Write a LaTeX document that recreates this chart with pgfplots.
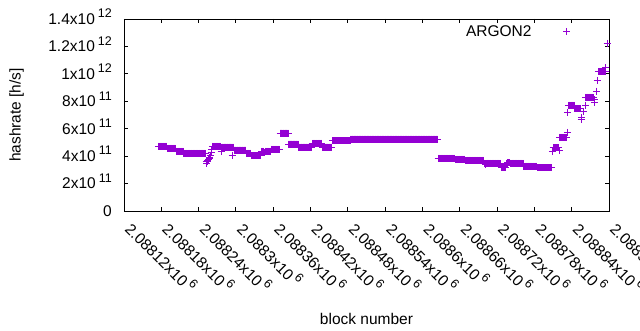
\documentclass[border=0pt]{standalone}
\usepackage{fontspec}
\setmainfont{Liberation Sans}
\usepackage{pgfplots}
\pgfplotsset{compat=1.18}
\definecolor{gpviolet}{RGB}{148,0,211}
\newcommand{\sci}[2]{#1x10\hspace{3bp}\smash{\raisebox{0.42em}{\fontsize{12.5bp}{13bp}\selectfont #2}}}
% block numbers are all 2088xxx: drop the common leading digits to keep full precision
\def\blockoffi#1#2#3#4#5\relax{\def\pgfmathresult{#5}}
\begin{document}
\begin{tikzpicture}
\begin{axis}[
  name=ax,
  scale only axis,
  width=485bp, height=192bp,
  x coord trafo/.code={\blockoffi#1\relax},
  xmin=2088120, xmax=2088900,
  ymin=0, ymax=1.4e12,
  scaled ticks=false,
  clip=false,
  axis line style={line width=0.9bp, black},
  every tick/.style={line width=0.9bp, black},
  tick align=inside,
  major tick length=4bp,
  xtick pos=both, ytick pos=both,
  font=\fontsize{15.5bp}{18bp}\selectfont,
  xtick={2088120,2088180,2088240,2088300,2088360,2088420,2088480,2088540,2088600,2088660,2088720,2088780,2088840,2088900},
  xticklabels={\sci{2.08812}{6},\sci{2.08818}{6},\sci{2.08824}{6},\sci{2.0883}{6},\sci{2.08836}{6},\sci{2.08842}{6},\sci{2.08848}{6},\sci{2.08854}{6},\sci{2.0886}{6},\sci{2.08866}{6},\sci{2.08872}{6},\sci{2.08878}{6},\sci{2.08884}{6},\sci{2.0889}{6}},
  xticklabel style={inner sep=0pt, yshift=-19bp, rotate=-45, anchor=base west},
  ytick={0,2e11,4e11,6e11,8e11,1e12,1.2e12,1.4e12},
  yticklabels={0,\sci{2}{11},\sci{4}{11},\sci{6}{11},\sci{8}{11},\sci{1}{12},\sci{1.2}{12},\sci{1.4}{12}},
  yticklabel style={inner sep=0pt, anchor=east, xshift=-12bp},
  ylabel={hashrate [h/s]},
  ylabel style={at={(axis description cs:-0.2216,0.5)}, anchor=center},
  xlabel={block number},
  xlabel style={at={(axis description cs:0.5,-0.5625)}, anchor=center},
  legend style={draw=none, fill=none, inner sep=0pt, outer sep=0pt,
    at={(axis description cs:0.9206,0.9323)}, anchor=east,
    nodes={inner sep=0pt},
    /tikz/every odd column/.append style={column sep=32bp}},
  legend plot pos=right,
  legend image code/.code={\draw[#1] plot coordinates {(0bp,0bp)};},
]
\addplot[only marks, mark=+, mark size=3.5bp, color=gpviolet, mark options={line width=1bp}] table {
x y
2088176 4.72e11
2088177 4.72e11
2088178 4.72e11
2088179 4.72e11
2088180 4.72e11
2088181 4.72e11
2088182 4.72e11
2088183 4.72e11
2088184 4.72e11
2088185 4.72e11
2088186 4.72e11
2088187 4.72e11
2088188 4.72e11
2088189 4.72e11
2088190 4.57e11
2088191 4.57e11
2088192 4.57e11
2088193 4.57e11
2088194 4.57e11
2088195 4.57e11
2088196 4.57e11
2088197 4.57e11
2088198 4.57e11
2088199 4.57e11
2088200 4.57e11
2088201 4.57e11
2088202 4.57e11
2088203 4.57e11
2088204 4.35e11
2088205 4.35e11
2088206 4.35e11
2088207 4.35e11
2088208 4.35e11
2088209 4.35e11
2088210 4.35e11
2088211 4.35e11
2088212 4.35e11
2088213 4.35e11
2088214 4.35e11
2088215 4.35e11
2088216 4.21e11
2088217 4.21e11
2088218 4.21e11
2088219 4.21e11
2088220 4.21e11
2088221 4.21e11
2088222 4.21e11
2088223 4.21e11
2088224 4.21e11
2088225 4.21e11
2088226 4.21e11
2088227 4.21e11
2088228 4.21e11
2088229 4.21e11
2088230 4.21e11
2088231 4.21e11
2088232 4.21e11
2088233 4.21e11
2088234 4.21e11
2088235 4.21e11
2088236 4.21e11
2088237 4.21e11
2088238 4.21e11
2088239 4.21e11
2088240 4.21e11
2088241 4.21e11
2088242 4.21e11
2088243 4.21e11
2088244 4.21e11
2088245 4.21e11
2088246 4.21e11
2088247 4.21e11
2088248 4.21e11
2088249 4.21e11
2088250 4.21e11
2088251 4.21e11
2088252 3.60e11
2088253 3.48e11
2088254 3.58e11
2088255 3.70e11
2088256 3.77e11
2088257 3.85e11
2088258 3.92e11
2088259 4.08e11
2088260 4.28e11
2088261 4.50e11
2088262 4.72e11
2088263 4.72e11
2088264 4.72e11
2088265 4.72e11
2088266 4.72e11
2088267 4.72e11
2088268 4.72e11
2088269 4.72e11
2088270 4.72e11
2088271 4.72e11
2088272 4.72e11
2088273 4.72e11
2088274 4.72e11
2088275 4.72e11
2088276 4.33e11
2088277 4.65e11
2088278 4.65e11
2088279 4.65e11
2088280 4.65e11
2088281 4.65e11
2088282 4.65e11
2088283 4.65e11
2088284 4.65e11
2088285 4.65e11
2088286 4.65e11
2088287 4.65e11
2088288 4.65e11
2088289 4.65e11
2088290 4.65e11
2088291 4.65e11
2088292 4.65e11
2088293 4.65e11
2088294 4.05e11
2088295 4.65e11
2088296 4.65e11
2088297 4.43e11
2088298 4.43e11
2088299 4.43e11
2088300 4.43e11
2088301 4.43e11
2088302 4.43e11
2088303 4.43e11
2088304 4.43e11
2088305 4.43e11
2088306 4.43e11
2088307 4.43e11
2088308 4.43e11
2088309 4.43e11
2088310 4.43e11
2088311 4.43e11
2088312 4.43e11
2088313 4.43e11
2088314 4.43e11
2088315 4.43e11
2088316 4.43e11
2088317 4.20e11
2088318 4.20e11
2088319 4.20e11
2088320 4.20e11
2088321 4.20e11
2088322 4.20e11
2088323 4.20e11
2088324 4.20e11
2088325 4.04e11
2088326 4.04e11
2088327 4.04e11
2088328 4.04e11
2088329 4.04e11
2088330 4.04e11
2088331 4.04e11
2088332 4.04e11
2088333 4.04e11
2088334 4.04e11
2088335 4.04e11
2088336 4.04e11
2088337 4.04e11
2088338 4.04e11
2088339 4.04e11
2088340 4.04e11
2088341 4.35e11
2088342 4.35e11
2088343 4.35e11
2088344 4.35e11
2088345 4.30e11
2088346 4.30e11
2088347 4.35e11
2088348 4.35e11
2088349 4.35e11
2088350 4.35e11
2088351 4.35e11
2088352 4.35e11
2088353 4.35e11
2088354 4.35e11
2088355 4.35e11
2088356 4.35e11
2088357 4.50e11
2088358 4.50e11
2088359 4.50e11
2088360 4.50e11
2088361 4.50e11
2088362 4.50e11
2088363 4.50e11
2088364 4.50e11
2088365 4.50e11
2088366 4.50e11
2088367 4.50e11
2088368 4.50e11
2088369 4.50e11
2088370 4.50e11
2088371 5.67e11
2088372 5.67e11
2088373 5.67e11
2088374 5.67e11
2088375 5.67e11
2088376 5.67e11
2088377 5.67e11
2088378 5.67e11
2088379 5.67e11
2088380 5.67e11
2088381 5.67e11
2088382 5.67e11
2088383 5.67e11
2088384 5.67e11
2088385 4.87e11
2088386 4.87e11
2088387 4.87e11
2088388 4.87e11
2088389 4.87e11
2088390 4.87e11
2088391 4.87e11
2088392 4.87e11
2088393 4.87e11
2088394 4.87e11
2088395 4.87e11
2088396 4.87e11
2088397 4.87e11
2088398 4.87e11
2088399 4.87e11
2088400 4.87e11
2088401 4.65e11
2088402 4.65e11
2088403 4.65e11
2088404 4.65e11
2088405 4.65e11
2088406 4.65e11
2088407 4.65e11
2088408 4.65e11
2088409 4.65e11
2088410 4.65e11
2088411 4.65e11
2088412 4.65e11
2088413 4.65e11
2088414 4.65e11
2088415 4.65e11
2088416 4.65e11
2088417 4.65e11
2088418 4.65e11
2088419 4.65e11
2088420 4.65e11
2088421 4.65e11
2088422 4.65e11
2088423 4.94e11
2088424 4.94e11
2088425 4.94e11
2088426 4.94e11
2088427 4.94e11
2088428 4.94e11
2088429 4.94e11
2088430 4.94e11
2088431 4.94e11
2088432 4.94e11
2088433 4.94e11
2088434 4.94e11
2088435 4.94e11
2088436 4.94e11
2088437 4.94e11
2088438 4.94e11
2088439 4.65e11
2088440 4.65e11
2088441 4.65e11
2088442 4.65e11
2088443 4.65e11
2088444 4.65e11
2088445 4.65e11
2088446 4.65e11
2088447 4.65e11
2088448 4.65e11
2088449 4.65e11
2088450 4.65e11
2088451 4.65e11
2088452 4.65e11
2088453 4.65e11
2088454 4.65e11
2088455 5.14e11
2088456 5.14e11
2088457 5.14e11
2088458 5.14e11
2088459 5.14e11
2088460 5.14e11
2088461 5.14e11
2088462 5.14e11
2088463 5.14e11
2088464 5.14e11
2088465 5.14e11
2088466 5.14e11
2088467 5.14e11
2088468 5.14e11
2088469 5.14e11
2088470 5.14e11
2088471 5.14e11
2088472 5.14e11
2088473 5.14e11
2088474 5.14e11
2088475 5.14e11
2088476 5.14e11
2088477 5.14e11
2088478 5.14e11
2088479 5.14e11
2088480 5.14e11
2088481 5.14e11
2088482 5.14e11
2088483 5.14e11
2088484 5.14e11
2088485 5.25e11
2088486 5.25e11
2088487 5.25e11
2088488 5.25e11
2088489 5.25e11
2088490 5.25e11
2088491 5.25e11
2088492 5.25e11
2088493 5.25e11
2088494 5.25e11
2088495 5.25e11
2088496 5.25e11
2088497 5.25e11
2088498 5.25e11
2088499 5.25e11
2088500 5.25e11
2088501 5.25e11
2088502 5.25e11
2088503 5.25e11
2088504 5.25e11
2088505 5.25e11
2088506 5.25e11
2088507 5.25e11
2088508 5.25e11
2088509 5.25e11
2088510 5.25e11
2088511 5.25e11
2088512 5.25e11
2088513 5.25e11
2088514 5.25e11
2088515 5.25e11
2088516 5.25e11
2088517 5.25e11
2088518 5.25e11
2088519 5.25e11
2088520 5.25e11
2088521 5.25e11
2088522 5.25e11
2088523 5.25e11
2088524 5.25e11
2088525 5.25e11
2088526 5.25e11
2088527 5.25e11
2088528 5.25e11
2088529 5.25e11
2088530 5.25e11
2088531 5.25e11
2088532 5.25e11
2088533 5.25e11
2088534 5.25e11
2088535 5.25e11
2088536 5.25e11
2088537 5.25e11
2088538 5.25e11
2088539 5.25e11
2088540 5.25e11
2088541 5.25e11
2088542 5.25e11
2088543 5.25e11
2088544 5.25e11
2088545 5.25e11
2088546 5.25e11
2088547 5.25e11
2088548 5.25e11
2088549 5.25e11
2088550 5.25e11
2088551 5.25e11
2088552 5.25e11
2088553 5.25e11
2088554 5.25e11
2088555 5.25e11
2088556 5.25e11
2088557 5.25e11
2088558 5.25e11
2088559 5.25e11
2088560 5.25e11
2088561 5.25e11
2088562 5.25e11
2088563 5.25e11
2088564 5.25e11
2088565 5.25e11
2088566 5.25e11
2088567 5.25e11
2088568 5.25e11
2088569 5.25e11
2088570 5.25e11
2088571 5.25e11
2088572 5.25e11
2088573 5.25e11
2088574 5.25e11
2088575 5.25e11
2088576 5.25e11
2088577 5.25e11
2088578 5.25e11
2088579 5.25e11
2088580 5.25e11
2088581 5.25e11
2088582 5.25e11
2088583 5.25e11
2088584 5.25e11
2088585 5.25e11
2088586 5.25e11
2088587 5.25e11
2088588 5.25e11
2088589 5.25e11
2088590 5.25e11
2088591 5.25e11
2088592 5.25e11
2088593 5.25e11
2088594 5.25e11
2088595 5.25e11
2088596 5.25e11
2088597 5.25e11
2088598 5.25e11
2088599 5.25e11
2088600 5.25e11
2088601 5.25e11
2088602 5.25e11
2088603 5.25e11
2088604 5.25e11
2088605 5.25e11
2088606 5.25e11
2088607 5.25e11
2088608 5.25e11
2088609 5.25e11
2088610 5.25e11
2088611 5.25e11
2088612 5.25e11
2088613 5.25e11
2088614 5.25e11
2088615 5.25e11
2088616 5.25e11
2088617 5.25e11
2088618 5.25e11
2088619 5.25e11
2088620 5.25e11
2088621 5.25e11
2088622 5.25e11
2088623 5.25e11
2088624 5.25e11
2088625 3.84e11
2088626 3.84e11
2088627 3.84e11
2088628 3.84e11
2088629 3.84e11
2088630 3.84e11
2088631 3.84e11
2088632 3.84e11
2088633 3.84e11
2088634 3.84e11
2088635 3.84e11
2088636 3.84e11
2088637 3.84e11
2088638 3.84e11
2088639 3.84e11
2088640 3.84e11
2088641 3.84e11
2088642 3.84e11
2088643 3.84e11
2088644 3.84e11
2088645 3.84e11
2088646 3.84e11
2088647 3.84e11
2088648 3.84e11
2088649 3.84e11
2088650 3.84e11
2088651 3.84e11
2088652 3.84e11
2088653 3.77e11
2088654 3.77e11
2088655 3.77e11
2088656 3.77e11
2088657 3.77e11
2088658 3.77e11
2088659 3.77e11
2088660 3.77e11
2088661 3.77e11
2088662 3.77e11
2088663 3.77e11
2088664 3.77e11
2088665 3.77e11
2088666 3.77e11
2088667 3.77e11
2088668 3.77e11
2088669 3.70e11
2088670 3.70e11
2088671 3.70e11
2088672 3.70e11
2088673 3.70e11
2088674 3.70e11
2088675 3.70e11
2088676 3.70e11
2088677 3.70e11
2088678 3.70e11
2088679 3.70e11
2088680 3.70e11
2088681 3.70e11
2088682 3.70e11
2088683 3.70e11
2088684 3.70e11
2088685 3.70e11
2088686 3.70e11
2088687 3.70e11
2088688 3.70e11
2088689 3.70e11
2088690 3.70e11
2088691 3.70e11
2088692 3.70e11
2088693 3.70e11
2088694 3.70e11
2088695 3.70e11
2088696 3.70e11
2088697 3.70e11
2088698 3.70e11
2088699 3.48e11
2088700 3.48e11
2088701 3.40e11
2088702 3.40e11
2088703 3.48e11
2088704 3.48e11
2088705 3.48e11
2088706 3.48e11
2088707 3.48e11
2088708 3.48e11
2088709 3.48e11
2088710 3.48e11
2088711 3.48e11
2088712 3.48e11
2088713 3.48e11
2088714 3.48e11
2088715 3.48e11
2088716 3.48e11
2088717 3.48e11
2088718 3.48e11
2088719 3.48e11
2088720 3.48e11
2088721 3.48e11
2088722 3.48e11
2088723 3.48e11
2088724 3.48e11
2088725 3.48e11
2088726 3.48e11
2088727 3.19e11
2088728 3.19e11
2088729 3.19e11
2088730 3.19e11
2088731 3.19e11
2088732 3.19e11
2088733 3.19e11
2088734 3.19e11
2088735 3.47e11
2088736 3.47e11
2088737 3.52e11
2088738 3.52e11
2088739 3.52e11
2088740 3.52e11
2088741 3.47e11
2088742 3.47e11
2088743 3.47e11
2088744 3.47e11
2088745 3.47e11
2088746 3.47e11
2088747 3.47e11
2088748 3.47e11
2088749 3.47e11
2088750 3.47e11
2088751 3.47e11
2088752 3.47e11
2088753 3.47e11
2088754 3.47e11
2088755 3.47e11
2088756 3.47e11
2088757 3.47e11
2088758 3.47e11
2088759 3.47e11
2088760 3.47e11
2088761 3.47e11
2088762 3.47e11
2088763 3.26e11
2088764 3.26e11
2088765 3.26e11
2088766 3.26e11
2088767 3.26e11
2088768 3.26e11
2088769 3.26e11
2088770 3.26e11
2088771 3.26e11
2088772 3.26e11
2088773 3.26e11
2088774 3.26e11
2088775 3.26e11
2088776 3.26e11
2088777 3.26e11
2088778 3.26e11
2088779 3.26e11
2088780 3.26e11
2088781 3.26e11
2088782 3.26e11
2088783 3.26e11
2088784 3.26e11
2088785 3.16e11
2088786 3.16e11
2088787 3.16e11
2088788 3.16e11
2088789 3.16e11
2088790 3.16e11
2088791 3.16e11
2088792 3.16e11
2088793 3.16e11
2088794 3.16e11
2088795 3.16e11
2088796 3.16e11
2088797 3.16e11
2088798 3.16e11
2088799 3.16e11
2088800 3.16e11
2088801 3.16e11
2088802 3.16e11
2088803 3.16e11
2088804 3.16e11
2088805 3.16e11
2088806 3.16e11
2088807 3.16e11
2088808 3.16e11
2088809 4.33e11
2088810 4.62e11
2088811 4.62e11
2088812 4.62e11
2088813 4.62e11
2088814 4.62e11
2088815 4.62e11
2088816 4.62e11
2088817 4.62e11
2088818 4.62e11
2088819 4.62e11
2088820 4.40e11
2088821 5.36e11
2088822 5.36e11
2088823 5.36e11
2088824 5.36e11
2088825 5.36e11
2088826 5.36e11
2088827 5.36e11
2088828 5.36e11
2088829 5.36e11
2088830 5.36e11
2088831 5.36e11
2088832 5.36e11
2088833 5.74e11
2088834 7.20e11
2088835 7.71e11
2088836 7.71e11
2088837 7.71e11
2088838 7.71e11
2088839 7.71e11
2088840 7.71e11
2088841 7.71e11
2088842 7.71e11
2088843 7.71e11
2088844 7.71e11
2088845 7.44e11
2088846 7.44e11
2088847 7.44e11
2088848 7.44e11
2088849 7.44e11
2088850 7.44e11
2088851 7.44e11
2088852 7.44e11
2088853 7.44e11
2088854 7.44e11
2088855 6.64e11
2088856 6.83e11
2088859 7.24e11
2088862 7.66e11
2088863 8.29e11
2088864 8.29e11
2088865 8.29e11
2088866 8.29e11
2088867 8.29e11
2088868 8.29e11
2088869 8.29e11
2088870 8.29e11
2088871 8.29e11
2088872 8.29e11
2088873 8.29e11
2088874 8.29e11
2088875 8.29e11
2088876 8.10e11
2088877 7.92e11
2088880 8.75e11
2088881 9.50e11
2088883 10.16e11
2088884 10.16e11
2088885 10.16e11
2088886 10.16e11
2088887 10.16e11
2088888 10.16e11
2088889 10.16e11
2088890 10.16e11
2088891 10.16e11
2088892 10.16e11
2088893 10.16e11
2088894 10.16e11
2088895 10.45e11
2088897 12.23e11
};
\addlegendentry{ARGON2}
\end{axis}
\pgfresetboundingbox
\path[use as bounding box] ([xshift=-124bp,yshift=-119bp]ax.south west) rectangle ([xshift=31bp,yshift=19bp]ax.north east);
\end{tikzpicture}
\end{document}
